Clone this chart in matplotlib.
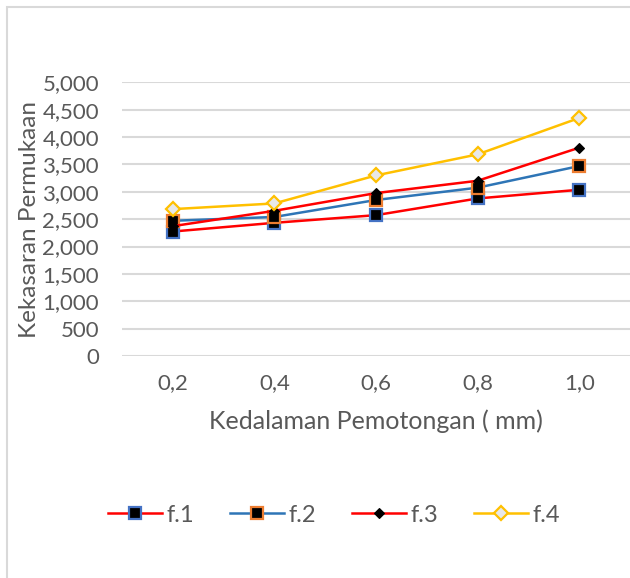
import matplotlib
matplotlib.use("Agg")
import matplotlib.pyplot as plt
from matplotlib.patches import Rectangle
import numpy as np

plt.rcParams['font.family'] = ['Lato', 'DejaVu Sans']

# data
kedalaman = ['0,2', '0,4', '0,6', '0,8', '1,0']
f1 = [2274, 2433, 2573, 2878, 3037]
f2 = [2470, 2540, 2850, 3075, 3470]
f3 = [2372, 2652, 2976, 3201, 3805]
f4 = [2683, 2787, 3299, 3683, 4348]
y_ticks = [0, 500, 1000, 1500, 2000, 2500, 3000, 3500, 4000, 4500, 5000]

txt = '#595959'
grid = '#D9D9D9'

fig = plt.figure(figsize=(6.3, 5.78), dpi=100)
ax = fig.add_axes([122 / 630, 1 - 356 / 578, 508 / 630, (356 - 82.3) / 578])

x = np.arange(len(kedalaman))
ax.plot(x, f1, color='#FF0000', lw=1.8, marker='s', ms=8.5,
        mfc='black', mec='#4472C4', mew=1.6, label='f.1')
ax.plot(x, f2, color='#2E75B6', lw=1.8, marker='s', ms=8.5,
        mfc='black', mec='#ED7D31', mew=1.6, label='f.2')
ax.plot(x, f3, color='#FF0000', lw=1.8, marker='D', ms=5,
        mfc='black', mec='black', mew=0.8, label='f.3')
ax.plot(x, f4, color='#FFC000', lw=1.8, marker='D', ms=7,
        mfc='#E8E8E8', mec='#FFC000', mew=1.6, label='f.4')

ax.set_xlim(-0.5, 4.5)
ax.set_ylim(0, 5000)
ax.set_xticks(x)
ax.set_xticklabels(kedalaman)
ax.set_yticks(y_ticks)
ax.set_yticklabels(['{:,}'.format(v) for v in y_ticks])
ax.yaxis.grid(True, color=grid, lw=1.5)
ax.set_axisbelow(True)
for s in ax.spines.values():
    s.set_visible(False)
ax.tick_params(length=0, labelsize=16, labelcolor=txt)
ax.tick_params(axis='x', pad=12)
ax.tick_params(axis='y', pad=16.5)

ax.set_xlabel('Kedalaman Pemotongan ( mm)', fontsize=18, color=txt, labelpad=12)
ax.set_ylabel('Kekasaran Permukaan', fontsize=17.5, color=txt, labelpad=2)

fig.legend(loc='center', bbox_to_anchor=(0.53, 1 - 515 / 578), ncol=4,
           frameon=False, fontsize=17, labelcolor=txt, handlelength=2.3,
           columnspacing=1.5, handletextpad=0.2)

fig.patches.append(Rectangle((7 / 630, -0.1), 1.2, 1.1 - 7 / 578,
                             transform=fig.transFigure, fill=False,
                             edgecolor=grid, lw=1.5))

fig.savefig('out.png', dpi=100)
